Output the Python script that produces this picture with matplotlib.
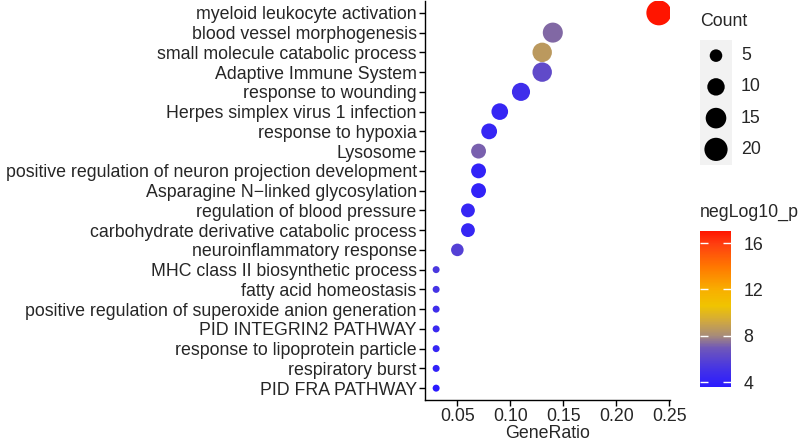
import numpy as np
import matplotlib
matplotlib.use("Agg")
import matplotlib.pyplot as plt
from matplotlib.colors import LinearSegmentedColormap, Normalize

plt.rcParams['font.family'] = ['Liberation Sans', 'DejaVu Sans']

terms = [
    "myeloid leukocyte activation",
    "blood vessel morphogenesis",
    "small molecule catabolic process",
    "Adaptive Immune System",
    "response to wounding",
    "Herpes simplex virus 1 infection",
    "response to hypoxia",
    "Lysosome",
    "positive regulation of neuron projection development",
    "Asparagine N\u2212linked glycosylation",
    "regulation of blood pressure",
    "carbohydrate derivative catabolic process",
    "neuroinflammatory response",
    "MHC class II biosynthetic process",
    "fatty acid homeostasis",
    "positive regulation of superoxide anion generation",
    "PID INTEGRIN2 PATHWAY",
    "response to lipoprotein particle",
    "respiratory burst",
    "PID FRA PATHWAY",
]
gene_ratio = [0.24, 0.14, 0.13, 0.13, 0.11, 0.09, 0.08, 0.07, 0.07, 0.07,
              0.06, 0.06, 0.05, 0.03, 0.03, 0.03, 0.03, 0.03, 0.03, 0.03]
count = [24, 14, 13, 13, 11, 9, 8, 7, 7, 7, 6, 6, 5, 3, 3, 3, 3, 3, 3, 3]
neglog10_p = [17.0, 7.3, 8.6, 6.3, 4.8, 4.3, 4.3, 7.1, 4.0, 4.0,
              4.3, 4.3, 5.8, 5.4, 5.2, 4.8, 4.5, 4.3, 4.0, 3.6]
size_breaks = [5, 10, 15, 20]
color_ticks = [4, 8, 12, 16]

TXT = '#262626'
FS = 12.8

cmap = LinearSegmentedColormap.from_list("bgr", [
    (0.00, '#2B1BFF'),
    (0.12, '#4634E4'),
    (0.25, '#7058B8'),
    (0.33, '#A88C78'),
    (0.42, '#D0A840'),
    (0.52, '#F0C400'),
    (0.62, '#F8B000'),
    (0.77, '#FF7800'),
    (0.92, '#FF3E10'),
    (1.00, '#FF1500'),
])
norm = Normalize(vmin=3.57, vmax=17.04)

cmin, cmax = min(count), max(count)
dmin, dmax = 7.0, 25.0  # diameter range in px


def size_of(c):
    c = np.asarray(c, dtype=float)
    d = dmin + np.sqrt((c - cmin) / (cmax - cmin)) * (dmax - dmin)
    return (d * 0.72) ** 2


fig = plt.figure(figsize=(8, 4.42), dpi=100)
ax = fig.add_axes([425 / 800, 1 - 400 / 442, 245 / 800, 399 / 442])

n = len(terms)
ypos = np.arange(n)[::-1]
sc = ax.scatter(gene_ratio, ypos, s=size_of(count), c=neglog10_p,
                cmap=cmap, norm=norm, linewidths=0, zorder=3)
ax.set_ylim(-0.6, n - 1 + 0.6)
ax.set_xlim(0.0195, 0.2505)
ax.set_yticks(ypos)
ax.set_yticklabels(terms, fontsize=FS, color=TXT)
ax.set_xticks([0.05, 0.10, 0.15, 0.20, 0.25])
ax.set_xticklabels(['0.05', '0.10', '0.15', '0.20', '0.25'], fontsize=FS, color=TXT)
ax.set_xlabel('GeneRatio', fontsize=FS, color=TXT, labelpad=0)
for s in ['top', 'right']:
    ax.spines[s].set_visible(False)
for s in ['left', 'bottom']:
    ax.spines[s].set_linewidth(1.0)
ax.tick_params(axis='both', length=4, width=1.0, pad=2)

# size legend
fig.text(700 / 800, 1 - 22 / 442, 'Count', fontsize=FS, color=TXT, va='center', ha='left')
lax = fig.add_axes([700 / 800, 1 - 165 / 442, 32 / 800, 125 / 442])
lax.set_xlim(0, 1)
lax.set_ylim(-0.5, len(size_breaks) - 0.5)
lax.set_facecolor('#F2F2F2')
for s in lax.spines.values():
    s.set_visible(False)
lax.set_xticks([])
lax.set_yticks([])
ly = np.arange(len(size_breaks))[::-1]
lax.scatter([0.5] * len(size_breaks), ly, s=size_of(size_breaks), c='black', linewidths=0)
for yy, b in zip(ly, size_breaks):
    lax.text(1.28, yy, str(b), fontsize=FS, color=TXT, va='center', ha='left',
             transform=lax.transData, clip_on=False)

# colorbar
fig.text(700 / 800, 1 - 212 / 442, 'negLog10_p', fontsize=FS, color=TXT, va='center', ha='left')
cax = fig.add_axes([700 / 800, 1 - 387 / 442, 31 / 800, 156 / 442])
cb = fig.colorbar(sc, cax=cax)
cb.outline.set_visible(False)
cb.set_ticks(color_ticks)
cb.set_ticklabels([str(t) for t in color_ticks])
cax.tick_params(axis='y', direction='in', color='white', length=6, width=1,
                left=True, right=True, labelright=True, labelleft=False,
                labelsize=FS, labelcolor=TXT, pad=9)

fig.savefig('out.png', dpi=100)
